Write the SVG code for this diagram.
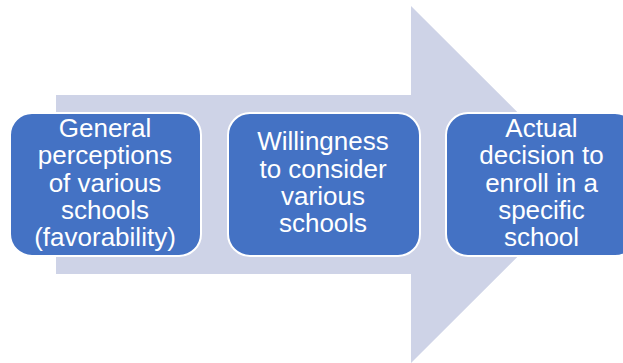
<svg xmlns="http://www.w3.org/2000/svg" width="623" height="363" viewBox="0 0 623 363">
<style>
.box{fill:#4472C4;stroke:#FFFFFF;stroke-width:2}
.t{font-family:"Liberation Sans",Arial,sans-serif;font-size:26px;fill:#FFFFFF;text-anchor:middle}
</style>
<rect width="623" height="363" fill="#FFFFFF"/>
<g id="connectors">
<polygon id="big-arrow" points="56,95 411,95 411,6 590,184.5 411,363 411,274 56,274" fill="#CED3E7"/>
</g>
<g id="node1">
<rect class="box" x="10" y="113" width="191" height="143" rx="22" ry="22"/>
<text class="t" x="105" y="137">General</text>
<text class="t" x="105" y="164.3">perceptions</text>
<text class="t" x="105" y="191.6">of various</text>
<text class="t" x="105" y="218.9">schools</text>
<text class="t" x="105" y="246.2">(favorability)</text>
</g>
<g id="node2">
<rect class="box" x="228" y="113" width="192" height="143" rx="22" ry="22"/>
<text class="t" x="323" y="150.3">Willingness</text>
<text class="t" x="323" y="177.6">to consider</text>
<text class="t" x="323" y="204.9">various</text>
<text class="t" x="323" y="232.2">schools</text>
</g>
<g id="node3">
<rect class="box" x="446" y="113" width="191" height="143" rx="22" ry="22"/>
<text class="t" x="541.5" y="137">Actual</text>
<text class="t" x="541.5" y="164.3">decision to</text>
<text class="t" x="541.5" y="191.6">enroll in a</text>
<text class="t" x="541.5" y="218.9">specific</text>
<text class="t" x="541.5" y="246.2">school</text>
</g>
</svg>
